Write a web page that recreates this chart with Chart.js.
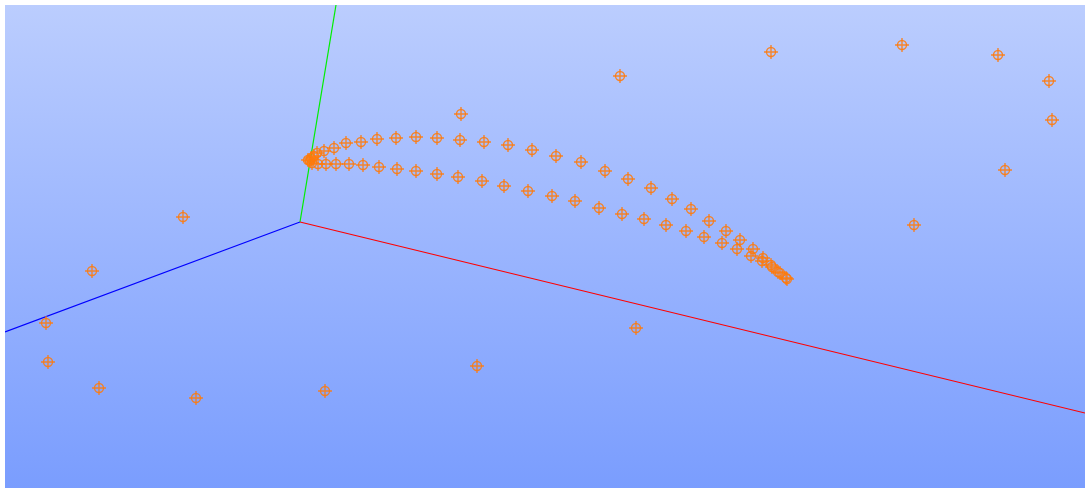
<!DOCTYPE html>
<html>
<head>
<meta charset="utf-8">
<script src="https://cdn.jsdelivr.net/npm/chart.js@4"></script>
<style>
  html, body { margin: 0; padding: 0; background: #ffffff; }
  canvas { display: block; }
</style>
</head>
<body>
<canvas id="scatter3d" width="1085" height="488"></canvas>
<script>
// projected positions of the points (screen units of the 3D view)
const upperArcX = [308, 311, 314, 317, 324, 334, 346, 361, 377, 396, 416, 437, 460, 484, 508, 532, 556, 581, 605, 628, 651, 672, 691, 709, 726, 740, 753, 763, 771, 778, 786];
const upperArcY = [160, 158, 156, 153, 151, 148, 143, 142, 139, 138, 137, 138, 140, 142, 145, 150, 156, 162, 171, 179, 188, 199, 209, 221, 231, 240, 249, 258, 265, 272, 278];
const lowerArcX = [310, 312, 318, 326, 336, 349, 363, 379, 397, 416, 437, 458, 482, 504, 528, 552, 575, 599, 622, 644, 666, 686, 704, 722, 737, 751, 762, 772, 780, 787];
const lowerArcY = [161, 163, 164, 164, 164, 164, 165, 167, 169, 171, 174, 177, 181, 186, 191, 196, 201, 208, 214, 219, 225, 231, 237, 243, 249, 256, 261, 267, 273, 279];
const looseX = [183, 92, 46, 48, 99, 196, 325, 477, 636, 461, 620, 771, 902, 998, 1049, 1052, 1005, 914];
const looseY = [217, 271, 323, 362, 388, 398, 391, 366, 328, 114, 76, 52, 45, 55, 81, 120, 170, 225];

// axis triad: origin and the far end of each axis
const originXY = [300, 222];
const axisXEnd = [1085, 413];
const axisYEnd = [336, 5];
const axisZEnd = [5, 332];

function toPoints(xs, ys) {
    return xs.map((x, i) => ({x: x, y: ys[i]}));
}

const allPoints = toPoints(upperArcX, upperArcY)
    .concat(toPoints(lowerArcX, lowerArcY))
    .concat(toPoints(looseX, looseY));

function axisLine(end, color) {
    return {
        type: 'line',
        data: [{x: originXY[0], y: originXY[1]}, {x: end[0], y: end[1]}],
        borderColor: color,
        borderWidth: 1.2,
        pointRadius: 0,
        fill: false,
        order: 5
    };
}

const markerColor = 'rgba(255, 122, 10, 0.85)';

const backdrop = {
    id: 'backdrop',
    beforeDraw(chart) {
        const {ctx, chartArea} = chart;
        const g = ctx.createLinearGradient(0, chartArea.top, 0, chartArea.bottom);
        g.addColorStop(0, '#bbcdfe');
        g.addColorStop(1, '#7a9dfe');
        ctx.save();
        ctx.fillStyle = g;
        ctx.fillRect(chartArea.left, chartArea.top, chartArea.right - chartArea.left, chartArea.bottom - chartArea.top);
        ctx.restore();
    }
};

new Chart(document.getElementById('scatter3d'), {
    type: 'scatter',
    data: {
        datasets: [
            axisLine(axisXEnd, '#ff0000'),
            axisLine(axisYEnd, '#00ee00'),
            axisLine(axisZEnd, '#0000ff'),
            {
                data: allPoints,
                pointStyle: 'circle',
                pointRadius: 4.5,
                pointBorderWidth: 1.4,
                pointBackgroundColor: 'rgba(0,0,0,0)',
                pointBorderColor: markerColor,
                order: 1
            },
            {
                data: allPoints,
                pointStyle: 'cross',
                pointRadius: 7,
                pointBorderWidth: 1.4,
                pointBorderColor: markerColor,
                order: 1
            }
        ]
    },
    options: {
        responsive: false,
        animation: false,
        layout: {autoPadding: false, padding: {left: 5, top: 5, right: 0, bottom: 0}},
        plugins: {legend: {display: false}, tooltip: {enabled: false}},
        scales: {
            x: {type: 'linear', min: 5, max: 1085, display: false},
            y: {type: 'linear', min: 5, max: 488, reverse: true, display: false}
        }
    },
    plugins: [backdrop]
});
</script>
</body>
</html>
